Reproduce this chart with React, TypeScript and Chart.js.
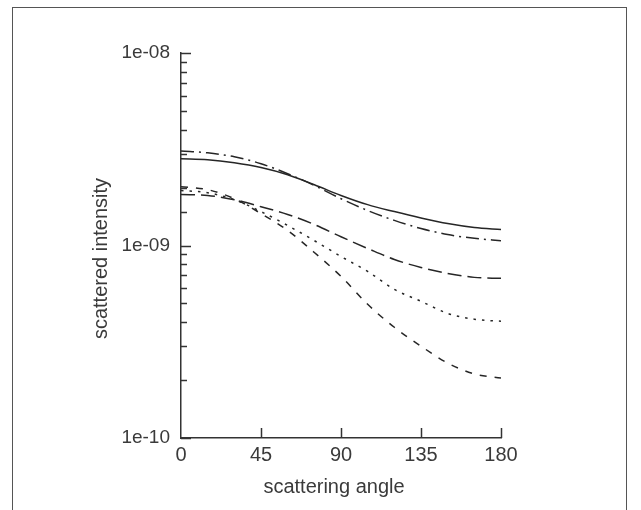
import React, { useEffect, useRef } from 'react';
import { Chart, registerables } from 'chart.js';

Chart.register(...registerables);

// scattering angle (degrees)
const angles = [0, 15, 30, 45, 60, 75, 90, 105, 120, 135, 150, 165, 180];

// scattered intensity per curve
const solidSeries = [2.82e-9, 2.79e-9, 2.69e-9, 2.54e-9, 2.33e-9, 2.07e-9, 1.82e-9, 1.63e-9, 1.5e-9, 1.39e-9, 1.3e-9, 1.24e-9, 1.21e-9];
const dashDotSeries = [3.1e-9, 3.03e-9, 2.89e-9, 2.66e-9, 2.36e-9, 2.05e-9, 1.75e-9, 1.52e-9, 1.35e-9, 1.225e-9, 1.14e-9, 1.09e-9, 1.06e-9];
const longDashSeries = [1.84e-9, 1.82e-9, 1.73e-9, 1.59e-9, 1.45e-9, 1.285e-9, 1.11e-9, 0.965e-9, 0.846e-9, 0.769e-9, 0.716e-9, 0.683e-9, 0.675e-9];
const dottedSeries = [1.93e-9, 1.88e-9, 1.73e-9, 1.5e-9, 1.27e-9, 1.06e-9, 0.877e-9, 0.733e-9, 0.592e-9, 0.513e-9, 0.444e-9, 0.414e-9, 0.404e-9];
const shortDashSeries = [2.02e-9, 1.95e-9, 1.75e-9, 1.465e-9, 1.196e-9, 0.92e-9, 0.691e-9, 0.495e-9, 0.376e-9, 0.3e-9, 0.245e-9, 0.215e-9, 0.205e-9];

const yTickLabels = ['1e-10', '1e-09', '1e-08'];
const xTicks = [0, 45, 90, 135, 180];
const xTitle = 'scattering angle';
const yTitle = 'scattered intensity';

const FONT = '"Liberation Sans", Arial, Helvetica, sans-serif';
const INK = '#262626';
const TEXT = '#3a3a3a';

const decorPlugin = {
  id: 'decor',
  afterDraw(chart: any) {
    const { ctx, chartArea, scales } = chart;
    const xs = scales.x;
    const ys = scales.y;
    ctx.save();
    ctx.strokeStyle = '#333';
    ctx.lineWidth = 1.5;
    ys.ticks.forEach((t: any) => {
      const py = Math.round(ys.getPixelForValue(t.value)) + 0.5;
      const lg = Math.log10(t.value);
      const major = Math.abs(lg - Math.round(lg)) < 1e-6;
      const len = major ? 10 : 6;
      ctx.beginPath();
      ctx.moveTo(chartArea.left, py);
      ctx.lineTo(chartArea.left + len, py);
      ctx.stroke();
    });
    xs.ticks.forEach((t: any) => {
      if (t.value === xs.min) return;
      const px = Math.round(xs.getPixelForValue(t.value)) + 0.5;
      ctx.beginPath();
      ctx.moveTo(px, chartArea.bottom);
      ctx.lineTo(px, chartArea.bottom - 10);
      ctx.stroke();
    });
    ctx.fillStyle = TEXT;
    ctx.font = '20px ' + FONT;
    ctx.textAlign = 'center';
    ctx.textBaseline = 'middle';
    ctx.fillText(xTitle, (chartArea.left + chartArea.right) / 2 - 7, chartArea.bottom + 49);
    ctx.translate(chartArea.left - 80, (chartArea.top + chartArea.bottom) / 2 + 13);
    ctx.rotate(-Math.PI / 2);
    ctx.fillText(yTitle, 0, 0);
    ctx.restore();
  },
};

export default function App() {
  const ref = useRef<HTMLCanvasElement | null>(null);

  useEffect(() => {
    if (!ref.current) return;
    const mk = (data: number[], dash: number[]) => ({
      data: angles.map((a, i) => ({ x: a, y: data[i] })),
      borderColor: INK,
      borderWidth: 1.5,
      borderDash: dash,
      pointRadius: 0,
      fill: false,
      cubicInterpolationMode: 'monotone' as const,
    });
    const chart = new Chart(ref.current, {
      type: 'line',
      data: {
        datasets: [
          mk(solidSeries, []),
          mk(dashDotSeries, [13, 5, 2, 5]),
          mk(longDashSeries, [14, 6]),
          mk(dottedSeries, [2.5, 6]),
          mk(shortDashSeries, [7, 8]),
        ],
      },
      options: {
        animation: false,
        responsive: false,
        devicePixelRatio: 1,
        layout: { padding: { left: 81, right: 140, top: 53, bottom: 2 } },
        plugins: { legend: { display: false }, tooltip: { enabled: false } },
        scales: {
          x: {
            type: 'linear',
            min: 0,
            max: 180,
            afterFit: (s: any) => { s.height = 70; },
            afterBuildTicks: (s: any) => { s.ticks = xTicks.map((v) => ({ value: v })); },
            grid: { display: false, drawTicks: false },
            border: { display: true, color: '#333', width: 1.5 },
            ticks: {
              autoSkip: false,
              maxRotation: 0,
              padding: 5,
              color: TEXT,
              font: { family: FONT, size: 20 },
            },
          },
          y: {
            type: 'logarithmic',
            min: 1e-10,
            max: 1e-8,
            afterFit: (s: any) => { s.width = 100; },
            grid: { display: false, drawTicks: false },
            border: { display: true, color: '#333', width: 1.5 },
            ticks: {
              autoSkip: false,
              padding: 11,
              color: TEXT,
              font: { family: FONT, size: 19 },
              callback: (v: any) => {
                const lg = Math.log10(Number(v));
                const r = Math.round(lg);
                return Math.abs(lg - r) < 1e-6 ? yTickLabels[r + 10] ?? '' : '';
              },
            },
          },
        },
      },
      plugins: [decorPlugin],
    });
    return () => chart.destroy();
  }, []);

  return (
    <div style={{ position: 'fixed', left: 0, top: 0, width: 641, height: 510, overflow: 'hidden', background: '#fff' }}>
      <div
        style={{
          position: 'absolute',
          left: 12,
          top: 7,
          width: 615,
          height: 520,
          border: '1.5px solid #555',
          borderBottom: 'none',
          boxSizing: 'border-box',
        }}
      />
      <canvas ref={ref} width={641} height={510} style={{ position: 'absolute', left: 0, top: 0, width: 641, height: 510 }} />
    </div>
  );
}
